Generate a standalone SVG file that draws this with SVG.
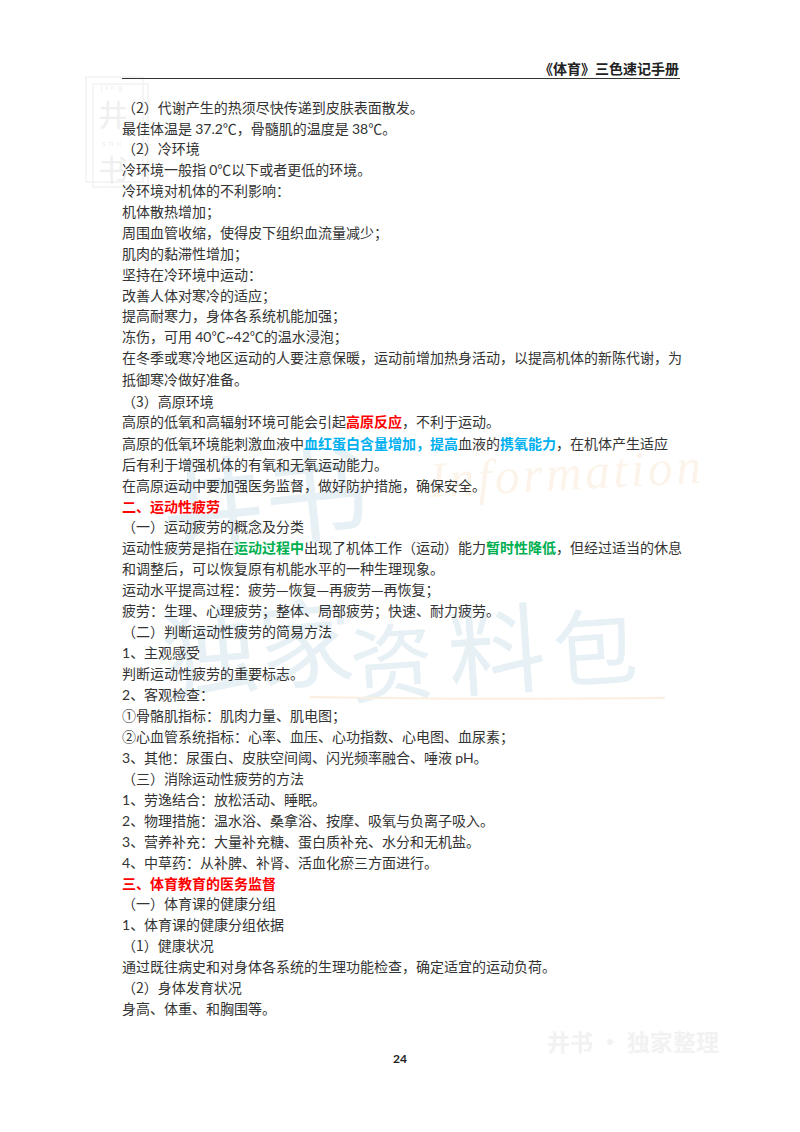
<svg xmlns="http://www.w3.org/2000/svg" width="800" height="1132" viewBox="0 0 800 1132">
<style>
text{font-family:"Noto Sans CJK SC","Noto Sans",sans-serif;font-size:14px;fill:#333;white-space:pre}
.l{font-family:Lato,"Noto Sans CJK SC",sans-serif}
.r{fill:#ff0000;font-weight:700}
.b{fill:#00b0f0;font-weight:700}
.g{fill:#00b050;font-weight:700}
.h{fill:#ff0000;font-weight:700}
.box{fill:none;stroke:#f2f2f2;stroke-width:1.5}
.seal{font-size:30px;fill:#efefef;text-anchor:middle}
.pin{font-family:"Liberation Sans",sans-serif;font-size:8px;fill:#eeeeee;text-anchor:middle;letter-spacing:3px}
</style>
<rect width="800" height="1132" fill="#fff"/>
<g id="watermarks">
<rect x="86" y="77" width="57" height="105" class="box"/>
<rect x="93" y="84" width="55" height="103" class="box"/>
<text x="113" y="90" class="pin">jing</text>
<text x="113" y="126" class="seal">井</text>
<text x="113" y="146" class="pin">shu</text>
<text x="113" y="181" class="seal">书</text>
<text x="430" y="497" transform="rotate(-3 430 497)" textLength="272" lengthAdjust="spacing" style="font-family:'Liberation Serif',serif;font-style:italic;font-size:50px;fill:#fcf4ea">Information</text>
<text x="165" y="550" transform="rotate(-6 165 550)" style="font-size:104px;fill:#e6f0f5">井书</text>
<text x="165" y="692" transform="rotate(-5 165 692)" style="font-size:96px;fill:#e6f0f5">独家</text>
<text x="352" y="697" transform="rotate(-4 352 697)" style="font-size:84px;fill:#e6f0f5">资</text>
<text x="450" y="690" transform="rotate(-4 450 690)" style="font-size:98px;fill:#e6f0f5">料</text>
<text x="555" y="682" transform="rotate(-4 555 682)" style="font-size:84px;fill:#e6f0f5">包</text>
<path d="M310 697 Q480 700 665 698" fill="none" stroke="#fbefe0" stroke-width="2"/>
<text x="547" y="1051" textLength="172" lengthAdjust="spacing" style="font-size:23px;fill:#f2f2f2;font-weight:700">井书 · 独家整理</text>
</g>
<g id="header">
<text x="679" y="74" text-anchor="end" style="font-weight:700;fill:#222">《体育》三色速记手册</text>
<line x1="122" y1="78.5" x2="680" y2="78.5" stroke="#333" stroke-width="1"/>
</g>
<g id="body">
<text x="122" y="113">（2）代谢产生的热须尽快传递到皮肤表面散发。</text>
<text x="122" y="134">最佳体温是 <tspan class="l">37.2</tspan>℃，骨髓肌的温度是 <tspan class="l">38</tspan>℃。</text>
<text x="122" y="154">（2）冷环境</text>
<text x="122" y="175">冷环境一般指 <tspan class="l">0</tspan>℃以下或者更低的环境。</text>
<text x="122" y="196">冷环境对机体的不利影响：</text>
<text x="122" y="217">机体散热增加；</text>
<text x="122" y="238">周围血管收缩，使得皮下组织血流量减少；</text>
<text x="122" y="259">肌肉的黏滞性增加；</text>
<text x="122" y="280">坚持在冷环境中运动：</text>
<text x="122" y="301">改善人体对寒冷的适应；</text>
<text x="122" y="321">提高耐寒力，身体各系统机能加强；</text>
<text x="122" y="342">冻伤，可用 <tspan class="l">40</tspan>℃<tspan class="l">~42</tspan>℃的温水浸泡；</text>
<text x="122" y="363">在冬季或寒冷地区运动的人要注意保暖，运动前增加热身活动，以提高机体的新陈代谢，为</text>
<text x="122" y="385">抵御寒冷做好准备。</text>
<text x="122" y="407">（3）高原环境</text>
<text x="122" y="427">高原的低氧和高辐射环境可能会引起<tspan class="r">高原反应</tspan>，不利于运动。</text>
<text x="122" y="449">高原的低氧环境能刺激血液中<tspan class="b">血红蛋白含量增加，提高</tspan>血液的<tspan class="b">携氧能力</tspan>，在机体产生适应</text>
<text x="122" y="470">后有利于增强机体的有氧和无氧运动能力。</text>
<text x="122" y="491">在高原运动中要加强医务监督，做好防护措施，确保安全。</text>
<text x="122" y="512" class="h">二、运动性疲劳</text>
<text x="122" y="532">（一）运动疲劳的概念及分类</text>
<text x="122" y="553">运动性疲劳是指在<tspan class="g">运动过程中</tspan>出现了机体工作（运动）能力<tspan class="g">暂时性降低</tspan>，但经过适当的休息</text>
<text x="122" y="574">和调整后，可以恢复原有机能水平的一种生理现象。</text>
<text x="122" y="595">运动水平提高过程：疲劳—恢复—再疲劳—再恢复；</text>
<text x="122" y="616">疲劳：生理、心理疲劳；整体、局部疲劳；快速、耐力疲劳。</text>
<text x="122" y="637">（二）判断运动性疲劳的简易方法</text>
<text x="122" y="658"><tspan class="l">1</tspan>、主观感受</text>
<text x="122" y="679">判断运动性疲劳的重要标志。</text>
<text x="122" y="700"><tspan class="l">2</tspan>、客观检查：</text>
<text x="122" y="721">①骨骼肌指标：肌肉力量、肌电图；</text>
<text x="122" y="742">②心血管系统指标：心率、血压、心功指数、心电图、血尿素；</text>
<text x="122" y="763"><tspan class="l">3</tspan>、其他：尿蛋白、皮肤空间阈、闪光频率融合、唾液 <tspan class="l">pH</tspan>。</text>
<text x="122" y="784">（三）消除运动性疲劳的方法</text>
<text x="122" y="805"><tspan class="l">1</tspan>、劳逸结合：放松活动、睡眠。</text>
<text x="122" y="826"><tspan class="l">2</tspan>、物理措施：温水浴、桑拿浴、按摩、吸氧与负离子吸入。</text>
<text x="122" y="847"><tspan class="l">3</tspan>、营养补充：大量补充糖、蛋白质补充、水分和无机盐。</text>
<text x="122" y="868"><tspan class="l">4</tspan>、中草药：从补脾、补肾、活血化瘀三方面进行。</text>
<text x="122" y="889" class="h">三、体育教育的医务监督</text>
<text x="122" y="909">（一）体育课的健康分组</text>
<text x="122" y="930"><tspan class="l">1</tspan>、体育课的健康分组依据</text>
<text x="122" y="951">（1）健康状况</text>
<text x="122" y="972">通过既往病史和对身体各系统的生理功能检查，确定适宜的运动负荷。</text>
<text x="122" y="993">（2）身体发育状况</text>
<text x="122" y="1014">身高、体重、和胸围等。</text>
</g>
<g id="footer">
<text x="400" y="1063" text-anchor="middle" class="l" style="font-size:12px;font-weight:700;fill:#222">24</text>
</g>
</svg>
